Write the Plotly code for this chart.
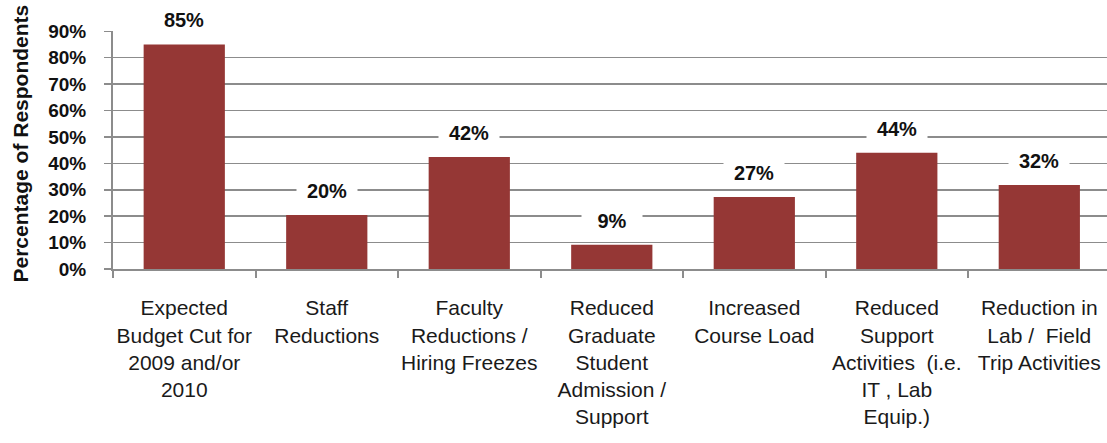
import plotly.graph_objects as go

categories = [
    "Expected<br>Budget Cut for<br>2009 and/or<br>2010",
    "Staff<br>Reductions",
    "Faculty<br>Reductions /<br>Hiring Freezes",
    "Reduced<br>Graduate<br>Student<br>Admission /<br>Support",
    "Increased<br>Course Load",
    "Reduced<br>Support<br>Activities\u00a0 (i.e.<br>IT , Lab<br>Equip.)",
    "Reduction in<br>Lab /\u00a0 Field<br>Trip Activities",
]
values = [85, 20.4, 42.4, 9.2, 27.3, 44, 31.8]
y_ticks = [0, 10, 20, 30, 40, 50, 60, 70, 80, 90]
y_tick_text = [f"{t}%" for t in y_ticks]
y_title = "Percentage of Respondents"

FONT = "Liberation Sans, Arial, sans-serif"
BAR = "#953735"
GRID = "#8c8c8c"

fig = go.Figure()
fig.add_trace(go.Bar(x=categories, y=values, marker=dict(color=BAR, line=dict(width=0)),
                     hoverinfo="skip"))

for c, v in zip(categories, values):
    fig.add_annotation(x=c, y=v, xref="x", yref="y", text=f"{round(v)}%",
                       showarrow=False, yanchor="middle", yshift=24,
                       bgcolor="white", width=58, height=24,
                       font=dict(family=FONT, size=20, color="#111111", weight="bold"))

fig.add_annotation(x=0, y=(269 - 143.5) / 238, xref="paper", yref="paper", xshift=-93,
                   text=y_title, textangle=-90, showarrow=False,
                   xanchor="center", yanchor="middle",
                   font=dict(family=FONT, size=21, color="#111111", weight="bold"))

fig.update_layout(
    width=1107, height=443,
    margin=dict(l=113, r=0, t=31, b=174, pad=0),
    paper_bgcolor="white", plot_bgcolor="white",
    bargap=0.43, showlegend=False,
    xaxis=dict(type="category", range=[-0.5, 6.475], tickson="boundaries",
               ticks="outside", ticklen=7, tickwidth=2, tickcolor=GRID,
               showline=True, linecolor=GRID, linewidth=2, showgrid=False,
               tickangle=0, automargin=False,
               tickfont=dict(family=FONT, size=21, color="#1a1a1a"),
               ticklabelstandoff=19),
    yaxis=dict(range=[0, 90.1], tickvals=y_ticks, ticktext=y_tick_text,
               showgrid=True, gridcolor=GRID, gridwidth=1.5,
               showline=True, linecolor=GRID, linewidth=2, zeroline=False,
               ticks="outside", ticklen=7, tickwidth=1.5, tickcolor=GRID,
               automargin=False,
               tickfont=dict(family=FONT, size=19, color="#111111", weight="bold"),
               ticklabelstandoff=14),
)

fig.write_html("out.html",
               config={"displayModeBar": False, "staticPlot": True},
               post_script="document.body.style.margin='0';document.body.style.overflow='hidden';")
